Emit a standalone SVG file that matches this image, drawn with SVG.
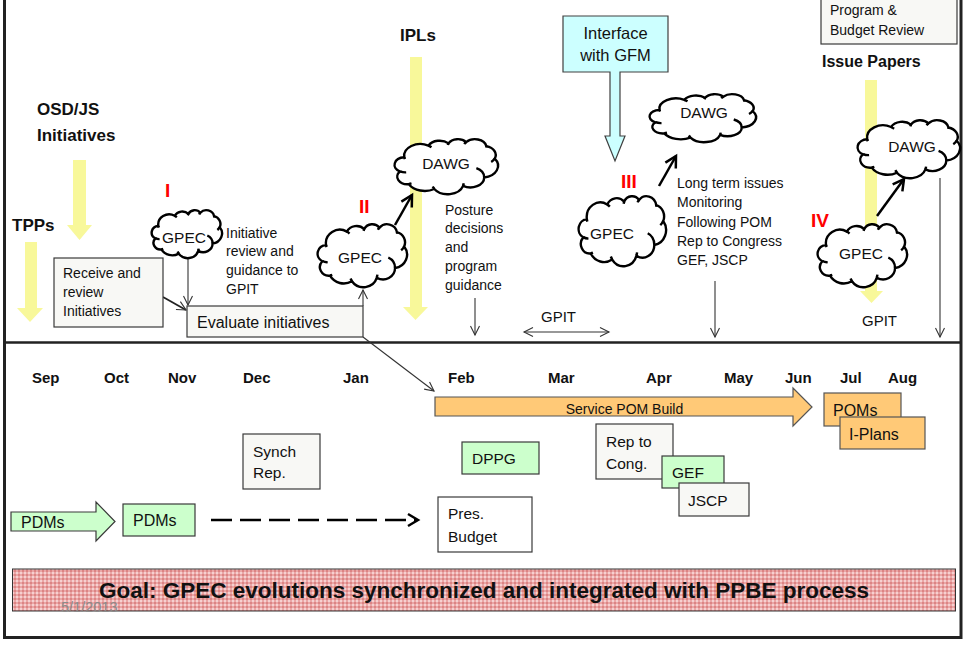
<svg xmlns="http://www.w3.org/2000/svg" xmlns:xlink="http://www.w3.org/1999/xlink" width="965" height="645" viewBox="0 0 965 645">
<style>
  text { font-family: "Liberation Sans", Arial, sans-serif; fill: #111; }
  .hd { font-weight: bold; font-size: 17px; }
  .mo { font-weight: bold; font-size: 15px; }
  .red { font-weight: bold; font-size: 19px; fill: #ff0000; }
  .t14 { font-size: 14px; }
  .t15 { font-size: 15.5px; }
  .t16 { font-size: 16px; }
  .cl { font-size: 15.5px; text-anchor: middle; }
  .yel { fill: #f8f89a; stroke: none; }
  .box { fill: #f8f8f5; stroke: #3a3a3a; stroke-width: 1.2; }
  .wbox { fill: #ffffff; stroke: #3a3a3a; stroke-width: 1.2; }
  .grn { fill: #ccffcc; stroke: #3a3a3a; stroke-width: 1.2; }
  .org { fill: #ffc977; stroke: #555; stroke-width: 1.2; }
  .thin { fill: none; stroke: #333; stroke-width: 1.1; marker-end: url(#ah); }
  .thick { fill: none; stroke: #000; stroke-width: 2.5; marker-end: url(#ahk); }
  .cloud { fill: #fff; stroke: #000; stroke-width: 2.4; }
</style>
<defs>
  <marker id="ah" markerUnits="userSpaceOnUse" markerWidth="12" markerHeight="12" refX="10" refY="6" orient="auto-start-reverse">
    <path d="M1,1.5 L10,6 L1,10.5" fill="none" stroke="#333" stroke-width="1.1"/>
  </marker>
  <marker id="ahk" markerUnits="userSpaceOnUse" markerWidth="16" markerHeight="16" refX="13" refY="8" orient="auto">
    <path d="M2,2 L13,8 L2,14" fill="none" stroke="#000" stroke-width="2.5"/>
  </marker>
  <g id="cloud">
    <path vector-effect="non-scaling-stroke" d="M9.03,33.26 A15.63,21.27 0 0 1 32.42,12.04 A12.34,16.82 0 0 1 51.98,7.95 A10.10,13.76 0 0 1 69.06,5.75 A11.24,15.27 0 0 1 88.70,12.91 A12.34,16.84 0 0 1 96.80,35.79 A15.68,21.34 0 0 1 86.58,69.92 A13.39,18.21 0 0 1 66.10,85.22 A15.63,21.33 0 0 1 38.15,90.89 A17.87,24.41 0 0 1 13.44,82.11 A10.09,13.70 0 0 1 4.89,59.14 A10.06,13.76 0 0 1 9.03,33.26 Z"/>
    <path vector-effect="non-scaling-stroke" fill="none" d="M10.86,60.59 A10.06,13.76 0 0 1 5.00,58.75 M16.04,80.78 A10.09,13.70 0 0 1 13.47,81.67 M38.14,90.49 A15.63,21.33 0 0 1 36.60,86.45 M66.73,80.44 A15.63,21.33 0 0 1 66.11,84.86 M79.00,53.13 A13.39,18.21 0 0 1 86.53,69.65 M96.75,35.54 A12.34,16.84 0 0 1 93.40,41.73 M88.71,12.56 A11.24,15.27 0 0 1 88.89,15.49 M67.31,9.15 A11.24,15.27 0 0 1 69.03,5.42 M51.25,10.93 A10.10,13.76 0 0 1 52.08,7.71 M32.41,12.02 A15.63,21.27 0 0 1 35.42,15.14 M9.55,36.55 A15.63,21.27 0 0 1 9.03,33.26"/>
  </g>
  <pattern id="pat" patternUnits="userSpaceOnUse" width="4" height="4">
    <rect width="4" height="4" fill="#eaa6a6"/>
    <rect width="2" height="2" fill="#f6d0d0"/>
    <rect x="2" y="2" width="2" height="2" fill="#dc8484"/>
  </pattern>
</defs>

<!-- frame -->
<rect x="4.5" y="-10" width="956.5" height="647.5" fill="#fff" stroke="#222" stroke-width="3"/>
<line x1="4" y1="342.5" x2="961" y2="342.5" stroke="#222" stroke-width="2.5"/>

<!-- yellow input arrows -->
<g id="osd-arrow"><polygon class="yel" points="73,160 86,160 86,225 92,225 79.5,240 67,225 73,225"/></g>
<g id="tpps-arrow"><polygon class="yel" points="25,242 37,242 37,308 43,308 30,322 17,308 25,308"/></g>
<g id="ipls-arrow"><polygon class="yel" points="410,57 422,57 422,307 428,307 415.5,320 403,307 410,307"/></g>
<g id="issue-arrow"><polygon class="yel" points="865,80 877,80 877,291 883,291 871.5,303 860,291 865,291"/></g>

<!-- labels -->
<g id="osd-label"><text class="hd" x="37" y="115">OSD/JS</text><text class="hd" x="37" y="141">Initiatives</text></g>
<g id="tpps-label"><text class="hd" x="12" y="231">TPPs</text></g>
<g id="ipls-label"><text class="hd" x="400" y="41">IPLs</text></g>
<g id="issue-label"><text class="hd" x="822" y="67" style="font-size:16px">Issue Papers</text></g>

<g id="stage-labels">
  <text class="red" x="165" y="197">I</text>
  <text class="red" x="359" y="213">II</text>
  <text class="red" x="621" y="188">III</text>
  <text class="red" x="811" y="227">IV</text>
</g>

<!-- connectors -->
<g id="connectors">
  <path class="thin" d="M188,258 L188,305"/>
  <path d="M163,297 L186,310" fill="none" stroke="#222" stroke-width="1.8" marker-end="url(#ah)"/>
  <path class="thin" d="M363,306 L363,290"/>
  <path class="thin" d="M363,337 L434,391"/>
  <path class="thin" d="M475,298 L475,335"/>
  <path class="thin" d="M524,332 L609,332" marker-start="url(#ah)"/>
  <path class="thin" d="M715,281 L715,337"/>
  <path class="thin" d="M940,178 L940,337"/>
  <path class="thick" d="M395,225 L412,195"/>
  <path class="thick" d="M659,186 L676,156"/>
  <path class="thick" d="M877,216 L904,179"/>
  <path d="M211,520 L416,520" fill="none" stroke="#000" stroke-width="2.5" stroke-dasharray="21 8"/>
  <path d="M408,514 L418,520 L408,526" fill="none" stroke="#000" stroke-width="2.5"/>
</g>

<!-- clouds -->
<g id="gpec-1"><use xlink:href="#cloud" class="cloud" transform="translate(152,210) scale(0.70,0.48)"/><text class="cl" x="184" y="243">GPEC</text></g>
<g id="dawg-2"><use xlink:href="#cloud" class="cloud" transform="translate(395,139) scale(1.03,0.55)"/><text class="cl" x="446" y="169">DAWG</text></g>
<g id="gpec-2"><use xlink:href="#cloud" class="cloud" transform="translate(318,224) scale(0.89,0.63)"/><text class="cl" x="360" y="263">GPEC</text></g>
<g id="dawg-3"><use xlink:href="#cloud" class="cloud" transform="translate(650,94) scale(1.06,0.48)"/><text class="cl" x="704" y="118">DAWG</text></g>
<g id="gpec-3"><use xlink:href="#cloud" class="cloud" transform="translate(579,196) scale(0.87,0.70)"/><text class="cl" x="612" y="239">GPEC</text></g>
<g id="dawg-4"><use xlink:href="#cloud" class="cloud" transform="translate(858,120) scale(1.02,0.58)"/><text class="cl" x="912" y="152">DAWG</text></g>
<g id="gpec-4"><use xlink:href="#cloud" class="cloud" transform="translate(818,224) scale(0.89,0.63)"/><text class="cl" x="861" y="259">GPEC</text></g>

<!-- top text annotations -->
<g id="initiative-note" class="t14">
  <text x="226" y="237.5">Initiative</text>
  <text x="226" y="256.3">review and</text>
  <text x="226" y="275.1">guidance to</text>
  <text x="226" y="293.9">GPIT</text>
</g>
<g id="posture-note" class="t14">
  <text x="445" y="214.5">Posture</text>
  <text x="445" y="233.2">decisions</text>
  <text x="445" y="252">and</text>
  <text x="445" y="270.8">program</text>
  <text x="445" y="289.6">guidance</text>
</g>
<g id="longterm-note" class="t14">
  <text x="677" y="188.3">Long term issues</text>
  <text x="677" y="207.3">Monitoring</text>
  <text x="677" y="226.5">Following POM</text>
  <text x="677" y="245.7">Rep to Congress</text>
  <text x="677" y="264.5">GEF, JSCP</text>
</g>
<g id="gpit-1"><text x="541" y="322" style="font-size:15px">GPIT</text></g>
<g id="gpit-2"><text x="862" y="326" style="font-size:15px">GPIT</text></g>

<!-- boxes top -->
<g id="receive">
  <rect class="box" x="54" y="258" width="109" height="69"/>
  <text class="t14" x="63" y="278">Receive and</text>
  <text class="t14" x="63" y="297">review</text>
  <text class="t14" x="63" y="316">Initiatives</text>
</g>
<g id="evaluate">
  <rect class="box" x="187" y="306" width="176" height="31"/>
  <text class="t16" x="197" y="328">Evaluate initiatives</text>
</g>
<g id="interface">
  <polygon points="563,16 668,16 668,72 620,72 620,136 625,136 615,161 605,136 610,136 610,72 563,72" fill="#ccffff" stroke="#404040" stroke-width="1.2"/>
  <text x="615.5" y="39" style="font-size:16.5px" text-anchor="middle">Interface</text>
  <text x="615.5" y="61" style="font-size:16.5px" text-anchor="middle">with GFM</text>
</g>
<g id="budget-review">
  <rect class="box" x="821" y="-4" width="136" height="48"/>
  <text class="t14" x="830" y="15">Program &amp;</text>
  <text class="t14" x="830" y="35">Budget Review</text>
</g>

<!-- months -->
<g id="months" class="mo">
  <text x="32" y="383">Sep</text>
  <text x="104" y="383">Oct</text>
  <text x="168" y="383">Nov</text>
  <text x="243" y="383">Dec</text>
  <text x="343" y="383">Jan</text>
  <text x="448" y="383">Feb</text>
  <text x="548" y="383">Mar</text>
  <text x="646" y="383">Apr</text>
  <text x="724" y="383">May</text>
  <text x="785" y="383">Jun</text>
  <text x="840" y="383">Jul</text>
  <text x="888" y="383">Aug</text>
</g>

<!-- bottom nodes -->
<g id="service-pom">
  <polygon class="org" points="435,397 793,397 793,388 812,407 793,426 793,416 435,416"/>
  <text x="624.5" y="414" style="font-size:14px" text-anchor="middle">Service POM Build</text>
</g>
<g id="poms">
  <rect class="org" x="824" y="393" width="77" height="33"/>
  <text class="t16" x="833" y="416">POMs</text>
</g>
<g id="iplans">
  <rect class="org" x="840" y="417" width="85" height="32"/>
  <text class="t16" x="849" y="440">I-Plans</text>
</g>
<g id="dppg">
  <rect class="grn" x="462" y="442" width="77" height="32"/>
  <text class="t15" x="472" y="464">DPPG</text>
</g>
<g id="rep-cong">
  <rect class="box" x="596" y="424" width="77" height="55"/>
  <text class="t15" x="606" y="447">Rep to</text>
  <text class="t15" x="606" y="469">Cong.</text>
</g>
<g id="gef">
  <rect class="grn" x="662" y="456" width="62" height="32"/>
  <text class="t15" x="672" y="478">GEF</text>
</g>
<g id="jscp">
  <rect class="box" x="679" y="483" width="70" height="33"/>
  <text class="t15" x="688" y="506">JSCP</text>
</g>
<g id="pres-budget">
  <rect class="wbox" x="438" y="497" width="94" height="55"/>
  <text class="t15" x="448" y="519">Pres.</text>
  <text class="t15" x="448" y="542">Budget</text>
</g>
<g id="synch-rep">
  <rect class="box" x="243" y="434" width="77" height="55"/>
  <text class="t15" x="253" y="457">Synch</text>
  <text class="t15" x="253" y="478">Rep.</text>
</g>
<g id="pdms-arrow">
  <polygon class="grn" points="11,512 96,512 96,502 115,521.5 96,541 96,531 11,531"/>
  <text class="t16" x="21" y="528">PDMs</text>
</g>
<g id="pdms-box">
  <rect class="grn" x="123" y="504" width="72" height="32"/>
  <text class="t16" x="133" y="526">PDMs</text>
</g>

<!-- goal banner -->
<g id="goal">
  <rect x="12.5" y="569" width="943" height="42" fill="url(#pat)" stroke="#333" stroke-width="1"/>
  <text x="484" y="598" text-anchor="middle" style="font-size:22.5px;font-weight:bold">Goal: GPEC evolutions synchronized and integrated with PPBE process</text>
</g>
<g id="date"><text x="61" y="612" style="font-size:14.5px;fill:#8c8c8c">5/1/2013</text></g>
</svg>
